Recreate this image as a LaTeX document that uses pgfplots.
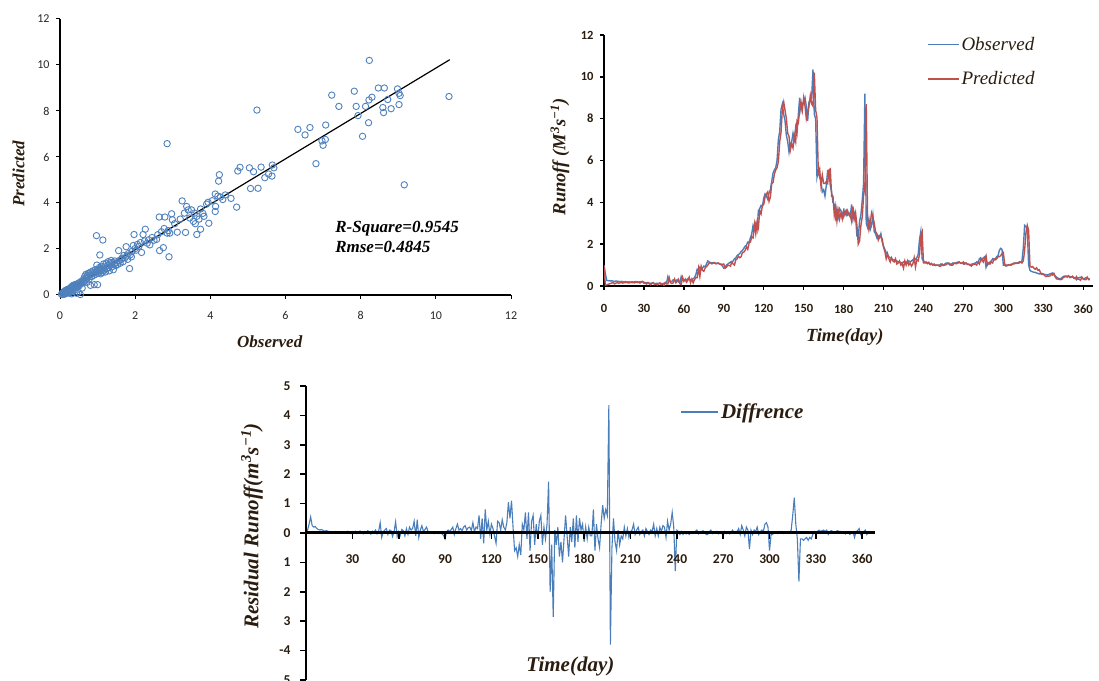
\documentclass[border=0pt]{standalone}
\usepackage{fontspec}
\setmainfont{Liberation Serif}
\newfontfamily\calibri{Carlito}
\usepackage{pgfplots}
\usepackage{pgfplotstable}
\pgfplotsset{compat=1.18}
\definecolor{obsblue}{HTML}{4A7EBB}
\definecolor{predred}{HTML}{C0504D}
\definecolor{mkblue}{HTML}{4F81BD}
\definecolor{lab}{HTML}{2A1C0E}
\definecolor{tk}{HTML}{262626}

\pgfplotstableread{
o p
0.04 0.03
0.06 0.08
0.08 0.02
0.09 0.12
0.10 0.06
0.11 0.15
0.12 0.09
0.13 0.04
0.14 0.17
0.15 0.11
0.15 0.20
0.16 0.07
0.17 0.14
0.18 0.22
0.19 0.16
0.20 0.12
0.20 0.18
0.21 0.25
0.22 0.15
0.23 0.09
0.24 0.20
0.25 0.15
0.26 0.28
0.27 0.11
0.28 0.19
0.29 0.33
0.30 0.24
0.31 0.05
0.32 0.38
0.33 0.28
0.34 0.15
0.35 0.42
0.36 0.31
0.38 0.36
0.39 0.22
0.40 0.45
0.41 0.33
0.43 0.40
0.44 0.08
0.45 0.48
0.46 0.36
0.48 0.43
0.49 0.12
0.50 0.52
0.51 0.40
0.53 0.47
0.54 0.02
0.55 0.58
0.56 0.50
0.58 0.55
0.59 0.30
0.60 0.62
0.62 0.53
0.63 0.70
0.64 0.58
0.66 0.82
0.67 0.64
0.69 0.90
0.70 0.72
0.72 0.55
0.73 0.85
0.75 0.78
0.76 0.95
0.78 0.70
0.80 0.88
0.81 0.42
0.82 1.00
0.84 0.80
0.86 0.92
0.88 1.05
0.89 0.85
0.91 0.45
0.92 0.98
0.94 1.10
0.95 0.90
0.97 1.02
0.98 1.30
1.00 0.45
1.00 1.05
1.01 0.95
1.03 1.12
1.04 1.00
1.05 1.20
1.06 1.74
1.07 1.08
1.08 0.92
1.09 1.15
1.10 1.05
1.11 1.25
1.12 1.10
1.13 0.98
1.14 2.39
0.97 2.58
1.15 1.18
1.16 1.35
1.18 1.08
1.20 1.22
1.21 1.00
1.23 1.38
1.25 1.15
1.27 1.28
1.28 1.45
1.30 1.20
1.31 1.05
1.33 1.40
1.35 1.30
1.36 1.50
1.38 1.22
1.40 1.42
1.42 1.10
1.44 1.35
1.46 1.48
1.48 1.28
1.50 1.40
1.53 1.32
1.56 1.93
1.58 1.50
1.60 1.38
1.63 1.55
1.65 1.60
1.68 1.45
1.70 1.72
1.73 1.62
1.76 2.10
1.78 1.70
1.80 1.55
1.82 1.80
1.85 1.15
1.87 1.75
1.90 1.66
1.92 1.90
1.95 2.15
1.97 2.63
2.00 2.02
2.03 1.95
2.06 2.20
2.10 2.12
2.14 2.28
2.17 1.85
2.21 2.63
2.25 2.35
2.27 2.86
2.32 2.25
2.36 2.40
2.39 2.18
2.45 2.50
2.50 2.38
2.57 2.42
2.60 2.62
2.64 3.39
2.65 1.93
2.70 2.75
2.75 2.06
2.77 2.89
2.79 3.39
2.85 6.58
2.85 2.69
2.88 2.80
2.90 1.66
2.92 2.69
2.97 3.53
2.99 3.27
3.05 3.10
3.12 2.73
3.20 3.30
3.25 4.09
3.31 3.56
3.34 2.72
3.37 3.85
3.41 3.70
3.45 3.35
3.50 3.70
3.55 3.20
3.58 3.56
3.60 3.10
3.64 3.42
3.64 2.63
3.70 3.30
3.74 3.74
3.74 2.86
3.80 3.55
3.83 3.42
3.90 3.95
3.94 4.03
3.96 3.12
4.05 4.10
4.13 4.39
4.13 3.63
4.14 3.85
4.20 4.30
4.22 4.95
4.24 5.23
4.27 4.26
4.33 4.15
4.40 4.35
4.55 4.20
4.70 3.82
4.73 5.39
4.79 5.55
5.04 5.53
5.07 4.63
5.15 5.36
5.24 8.04
5.27 4.64
5.35 5.56
5.45 5.10
5.55 5.26
5.64 5.17
5.65 5.65
5.69 5.53
6.33 7.20
6.52 6.96
6.65 7.28
6.81 5.71
6.97 6.70
7.00 6.51
7.06 6.76
7.07 7.39
7.23 8.69
7.42 8.20
7.83 8.86
7.88 8.20
7.93 7.80
8.05 6.90
8.13 8.20
8.21 7.49
8.22 8.48
8.23 10.20
8.30 8.60
8.47 9.00
8.59 8.15
8.61 7.93
8.63 9.00
8.72 8.50
8.81 8.10
8.98 8.96
9.02 8.77
9.02 8.28
9.05 8.67
9.16 4.79
10.35 8.63
}\scatterdata

\pgfplotstableread{
day obs pred diff
0 1.00 0.95 0.00
1 0.60 0.05 0.10
2 0.27 0.05 0.30
3 0.26 0.08 0.55
4 0.25 0.10 0.25
5 0.24 0.12 0.20
6 0.25 0.15 0.22
7 0.23 0.15 0.15
8 0.22 0.10 0.12
9 0.24 0.14 0.10
10 0.23 0.16 0.12
11 0.22 0.13 0.09
12 0.21 0.15 0.06
13 0.22 0.17 0.08
14 0.21 0.14 0.07
15 0.20 0.16 0.04
16 0.21 0.16 0.05
17 0.20 0.17 0.03
18 0.19 0.15 0.04
19 0.20 0.15 0.05
20 0.19 0.17 0.02
21 0.20 0.16 0.04
22 0.19 0.16 0.03
23 0.20 0.15 0.05
24 0.21 0.19 0.02
25 0.20 0.16 0.04
26 0.19 0.18 0.01
27 0.20 0.14 0.06
28 0.21 0.18 0.03
29 0.20 0.22 -0.02
30 0.18 0.13 0.05
31 0.16 0.14 0.02
32 0.15 0.09 0.06
33 0.15 0.17 -0.02
34 0.14 0.10 0.04
35 0.13 0.06 0.07
36 0.14 0.12 0.02
37 0.13 0.16 -0.03
38 0.12 0.07 0.05
39 0.12 0.10 0.02
40 0.13 0.05 0.08
41 0.12 0.11 0.01
42 0.11 0.15 -0.04
43 0.12 0.06 0.06
44 0.12 0.09 0.03
45 0.13 0.03 0.10
46 0.14 0.17 -0.03
47 0.15 0.10 0.05
48 0.45 0.10 0.35
49 0.25 0.40 -0.15
50 0.20 0.15 0.05
51 0.22 0.12 0.10
52 0.30 0.15 0.15
53 0.28 0.33 -0.05
54 0.25 0.15 0.10
55 0.30 0.22 0.08
56 0.20 0.32 -0.12
57 0.15 0.10 0.05
58 0.45 0.07 0.38
59 0.30 0.42 -0.12
60 0.28 0.23 0.05
61 0.25 0.33 -0.08
62 0.30 0.18 0.12
63 0.35 0.27 0.08
64 0.32 0.42 -0.10
65 0.30 0.15 0.15
66 0.28 0.33 -0.05
67 0.35 0.15 0.20
68 0.40 0.30 0.10
69 0.55 0.40 0.15
70 0.80 0.40 0.40
71 0.75 0.85 -0.10
72 0.90 0.45 0.45
73 0.80 0.95 -0.15
74 0.85 0.75 0.10
75 0.95 0.70 0.25
76 0.92 0.87 0.05
77 1.05 0.93 0.12
78 1.20 1.00 0.20
79 1.15 1.10 0.05
80 1.12 1.10 0.02
81 1.10 1.06 0.04
82 1.12 1.09 0.03
83 1.10 1.12 -0.02
84 1.08 1.06 0.02
85 1.10 1.07 0.03
86 1.08 1.10 -0.02
87 1.05 1.04 0.01
88 1.02 1.05 -0.03
89 0.95 1.03 -0.08
90 0.85 1.05 -0.20
91 0.90 0.85 0.05
92 1.00 0.90 0.10
93 1.05 1.00 0.05
94 1.10 0.98 0.12
95 1.15 0.95 0.20
96 1.10 1.15 -0.05
97 1.20 1.05 0.15
98 1.30 1.00 0.30
99 1.35 1.25 0.10
100 1.45 1.30 0.15
101 1.50 1.42 0.08
102 1.55 1.35 0.20
103 1.65 1.40 0.25
104 1.70 1.60 0.10
105 1.80 1.62 0.18
106 1.90 1.70 0.20
107 1.95 1.87 0.08
108 2.10 1.75 0.35
109 2.10 2.05 0.05
110 2.30 2.10 0.20
111 2.50 2.35 0.15
112 2.90 2.30 0.60
113 2.75 2.95 -0.20
114 3.00 2.50 0.50
115 2.70 3.05 -0.35
116 3.60 2.80 0.80
117 3.70 3.60 0.10
118 3.85 3.45 0.40
119 3.80 3.85 -0.05
120 4.20 3.90 0.30
121 4.40 4.25 0.15
122 4.30 4.40 -0.10
123 4.15 4.50 -0.35
124 4.45 4.05 0.40
125 4.60 4.25 0.35
126 5.00 4.90 0.10
127 5.40 4.95 0.45
128 5.55 5.35 0.20
129 5.65 5.55 0.10
130 6.00 5.65 0.35
131 7.00 5.95 1.05
132 7.40 6.90 0.50
133 8.45 7.35 1.10
134 8.70 8.50 0.20
135 8.20 8.80 -0.60
136 7.90 8.40 -0.50
137 7.20 8.00 -0.80
138 6.90 7.30 -0.40
139 6.40 7.15 -0.75
140 6.80 6.50 0.30
141 6.90 6.80 0.10
142 7.30 6.60 0.70
143 7.00 7.20 -0.20
144 7.60 6.90 0.70
145 7.30 7.90 -0.60
146 8.20 7.80 0.40
147 9.00 8.40 0.60
148 8.40 8.80 -0.40
149 8.70 8.40 0.30
150 8.80 9.00 -0.20
151 9.00 8.60 0.40
152 8.60 8.00 0.60
153 7.90 8.30 -0.40
154 8.80 8.60 0.20
155 8.90 9.10 -0.20
156 9.00 8.70 0.30
157 10.35 8.60 1.75
158 8.20 10.20 -2.00
159 8.00 8.40 -0.40
160 5.20 8.05 -2.85
161 5.50 5.40 0.10
162 5.20 5.60 -0.40
163 5.00 4.80 0.20
164 4.50 5.30 -0.80
165 4.60 4.90 -0.30
166 4.30 4.90 -1.00
167 4.80 5.00 -0.20
168 5.50 4.90 0.60
169 5.45 5.55 -0.10
170 4.80 5.60 -0.80
171 4.50 4.30 0.20
172 4.00 4.30 -0.30
173 3.90 3.40 0.50
174 3.30 3.80 -0.50
175 3.70 3.10 0.60
176 3.30 3.60 -0.30
177 3.70 3.20 0.50
178 3.60 3.50 0.10
179 3.50 3.20 0.30
180 3.30 3.60 -0.30
181 3.60 3.40 0.20
182 3.40 3.60 -0.20
183 3.60 3.40 0.20
184 3.40 3.50 -0.10
185 3.30 3.40 -0.10
186 3.90 3.10 0.80
187 3.20 3.80 -0.60
188 3.50 3.20 0.30
189 3.30 3.50 -0.20
190 2.40 2.90 -0.50
191 2.30 2.00 0.30
192 3.10 2.15 0.95
193 3.40 2.90 0.50
194 4.10 3.30 0.80
195 4.90 4.30 0.60
196 9.20 4.80 4.35
197 3.00 8.70 -3.80
198 2.80 3.20 -0.50
199 3.20 2.70 0.50
200 2.70 3.00 -0.30
201 2.90 3.50 -0.60
202 3.40 3.30 0.10
203 2.60 3.00 -0.40
204 2.50 2.60 -0.10
205 2.30 2.50 -0.20
206 2.40 2.20 0.20
207 2.30 2.40 -0.10
208 2.50 2.35 0.15
209 2.10 2.25 -0.15
210 1.90 1.85 0.05
211 1.75 1.65 0.10
212 1.60 1.30 0.30
213 1.50 1.55 -0.05
214 1.40 1.30 0.10
215 1.35 1.15 0.20
216 1.30 1.35 -0.05
217 1.25 1.20 0.05
218 1.25 1.15 0.10
219 1.20 1.30 -0.10
220 1.20 1.05 0.15
221 1.15 1.10 0.05
222 1.15 1.20 -0.05
223 1.10 1.00 0.10
224 1.12 1.07 0.05
225 1.15 0.85 0.30
226 1.10 1.20 -0.10
227 1.15 1.00 0.15
228 1.10 1.20 -0.10
229 1.20 1.00 0.20
230 1.15 1.10 0.05
231 1.20 0.95 0.25
232 1.25 1.05 0.20
233 1.20 1.35 -0.15
234 1.30 0.90 0.40
235 1.35 1.25 0.10
236 1.50 1.20 0.30
237 2.20 1.50 0.70
238 2.60 2.40 0.20
239 1.30 2.60 -1.30
240 1.20 1.10 0.10
241 1.15 1.10 0.05
242 1.10 1.15 -0.05
243 1.12 1.07 0.05
244 1.08 1.13 -0.05
245 1.05 1.02 0.03
246 1.05 1.08 -0.03
247 1.02 1.00 0.02
248 1.00 1.05 -0.05
249 1.00 0.98 0.02
250 1.00 1.00 0.00
251 0.98 1.00 -0.02
252 1.00 0.95 0.05
253 1.05 0.95 0.10
254 1.02 1.05 -0.03
255 1.00 0.98 0.02
256 1.05 1.00 0.05
257 1.10 1.02 0.08
258 1.10 1.08 0.02
259 1.05 1.10 -0.05
260 1.00 1.05 -0.05
261 1.05 1.00 0.05
262 1.10 1.00 0.10
263 1.08 1.10 -0.02
264 1.10 1.07 0.03
265 1.12 1.07 0.05
266 1.15 1.10 0.05
267 1.12 1.15 -0.03
268 1.10 1.08 0.02
269 1.10 1.10 0.00
270 1.05 1.15 -0.10
271 1.10 1.05 0.05
272 1.08 1.10 -0.02
273 1.05 1.03 0.02
274 1.02 1.05 -0.03
275 1.00 1.00 0.00
276 1.05 0.95 0.10
277 1.05 1.02 0.03
278 1.08 1.03 0.05
279 1.10 1.05 0.05
280 1.15 1.00 0.15
281 1.10 1.15 -0.05
282 1.30 1.05 0.25
283 1.35 1.25 0.10
284 1.20 1.30 -0.10
285 1.35 1.15 0.20
286 1.40 1.30 0.10
287 0.90 1.45 -0.55
288 1.10 1.00 0.10
289 1.05 1.10 -0.05
290 1.15 1.05 0.10
291 1.20 1.15 0.05
292 1.30 1.10 0.20
293 1.25 1.30 -0.05
294 1.30 1.25 0.05
295 1.40 1.30 0.10
296 1.45 1.40 0.05
297 1.70 1.40 0.30
298 1.80 1.45 0.35
299 1.75 1.55 0.20
300 1.00 1.60 -0.60
301 1.00 1.05 -0.05
302 0.95 1.00 -0.05
303 1.00 0.97 0.03
304 1.02 1.00 0.02
305 1.00 1.02 -0.02
306 1.05 1.00 0.05
307 1.05 1.05 0.00
308 1.10 1.05 0.05
309 1.08 1.10 -0.02
310 1.10 1.08 0.02
311 1.12 1.09 0.03
312 1.15 1.10 0.05
313 1.15 1.15 0.00
314 1.20 1.10 0.10
315 1.80 1.20 0.60
316 2.90 1.70 1.20
317 2.85 2.55 0.30
318 2.70 2.90 -0.20
319 1.00 2.65 -1.65
320 0.75 0.95 -0.20
321 0.70 0.90 -0.20
322 0.68 0.93 -0.25
323 0.65 0.85 -0.20
324 0.65 0.80 -0.15
325 0.62 0.87 -0.25
326 0.60 0.75 -0.15
327 0.58 0.78 -0.20
328 0.58 0.63 -0.05
329 0.60 0.55 0.05
330 0.58 0.56 0.02
331 0.55 0.50 0.05
332 0.55 0.45 0.10
333 0.52 0.47 0.05
334 0.55 0.47 0.08
335 0.58 0.48 0.10
336 0.60 0.55 0.05
337 0.62 0.52 0.10
338 0.55 0.60 -0.05
339 0.48 0.43 0.05
340 0.42 0.34 0.08
341 0.38 0.33 0.05
342 0.35 0.32 0.03
343 0.35 0.30 0.05
344 0.40 0.32 0.08
345 0.45 0.40 0.05
346 0.48 0.43 0.05
347 0.48 0.46 0.02
348 0.47 0.42 0.05
349 0.46 0.49 -0.03
350 0.45 0.40 0.05
351 0.44 0.42 0.02
352 0.42 0.47 -0.05
353 0.40 0.37 0.03
354 0.40 0.35 0.05
355 0.30 0.45 -0.15
356 0.38 0.33 0.05
357 0.40 0.32 0.08
358 0.42 0.27 0.15
359 0.38 0.43 -0.05
360 0.35 0.33 0.02
361 0.36 0.31 0.05
362 0.40 0.30 0.10
363 0.38 0.43 -0.05
364 0.35 0.30 0.05
365 0.32 0.30 0.02
}\runoff

\begin{document}
\begin{tikzpicture}
\path[use as bounding box] (0pt,0pt) rectangle (1099pt,680pt);
\clip (0pt,0pt) rectangle (1099pt,680pt);

% ---------- Panel 1: scatter ----------
\begin{axis}[
  at={(60pt,385pt)}, anchor=south west,
  scale only axis, width=451pt, height=276pt,
  xmin=0, xmax=12, ymin=0, ymax=12,
  xtick={0,2,...,12}, ytick={0,2,...,12},
  axis lines=left, axis line style={-, line width=1.2pt, black},
  tick align=outside, major tick length=4pt,
  tick style={line width=1pt, black},
  /pgf/number format/assume math mode=true,
  ticklabel style={font=\calibri\fontsize{12}{14}\selectfont, text=tk},
  xticklabel style={yshift=-9pt},
  yticklabel style={xshift=-3pt},
  clip=false,
  xlabel={Observed}, ylabel={Predicted},
  xlabel style={at={(axis description cs:0.465,-0.168)}, anchor=center,
    font=\bfseries\itshape\fontsize{17}{20}\selectfont, text=lab},
  ylabel style={at={(axis description cs:-0.092,0.44)}, anchor=center, rotate=0,
    font=\bfseries\itshape\fontsize{17}{20}\selectfont, text=lab},
]
\addplot[only marks, mark=o, mark size=3.2pt, mark options={line width=0.9pt, draw=mkblue}]
  table[x=o, y=p] {\scatterdata};
\addplot[black, line width=1.2pt] coordinates {(0.06,0.06) (10.37,10.23)};
\node[anchor=west, align=left, font=\bfseries\itshape\fontsize{17}{20.5}\selectfont, inner sep=0pt]
  at (axis description cs:0.61,0.21) {R-Square=0.9545\\Rmse=0.4845};
\end{axis}

% ---------- Panel 2: time series ----------
\begin{axis}[
  at={(604pt,394pt)}, anchor=south west,
  scale only axis, width=488.5pt, height=251pt,
  xmin=0, xmax=367, ymin=0, ymax=12,
  xtick={0,30,...,360}, ytick={0,2,...,12},
  axis lines=left, axis line style={-, line width=1.8pt, black},
  tick align=outside, major tick length=4pt,
  tick style={line width=1.4pt, black},
  /pgf/number format/assume math mode=true,
  ticklabel style={font=\calibri\bfseries\fontsize{12.5}{14}\selectfont, text=lab},
  xticklabel style={yshift=-11pt},
  yticklabel style={xshift=-3pt},
  xlabel={Time(day)}, ylabel={Runoff (M\textsuperscript{3}s\textsuperscript{−1})},
  xlabel style={at={(axis description cs:0.493,-0.203)}, anchor=center,
    font=\bfseries\itshape\fontsize{18.5}{22}\selectfont, text=lab},
  ylabel style={at={(axis description cs:-0.090,0.514)}, anchor=center, rotate=0,
    font=\bfseries\itshape\fontsize{18.5}{22}\selectfont, text=lab},
  legend style={at={(axis description cs:0.661,0.894)}, anchor=west,
    draw=none, fill=none, inner sep=0pt,
    nodes={inner ysep=10pt},
    font=\itshape\fontsize{19}{22}\selectfont, text=lab,
    cells={anchor=west}},
  legend image code/.code={\draw[#1] (0pt,0pt) -- (31pt,0pt);},
]
\addplot[obsblue, line width=1.4pt] table[x=day, y=obs] {\runoff};
\addlegendentry{Observed}
\addplot[predred, line width=1.4pt] table[x=day, y=pred] {\runoff};
\addlegendentry{Predicted}
\end{axis}

% ---------- Panel 3: residual ----------
\begin{axis}[
  at={(306pt,0pt)}, anchor=south west,
  scale only axis, width=568.6pt, height=294pt,
  xmin=0, xmax=368, ymin=-5, ymax=5,
  xtick={30,60,...,360}, ytick={-5,-4,...,5},
  yticklabels={5,-4,3,2,1,0,1,2,3,4,5},
  axis x line=middle, axis y line=left,
  x axis line style={-, line width=3pt, black},
  y axis line style={-, line width=2.2pt, black},
  axis on top,
  major tick length=6pt,
  ytick align=outside, xtick align=outside,
  tick style={line width=1.6pt, black},
  /pgf/number format/assume math mode=true,
  ticklabel style={font=\calibri\bfseries\fontsize{13.5}{15}\selectfont, text=lab},
  xticklabel style={yshift=-12pt},
  yticklabel style={xshift=-6pt},
  xlabel={Time(day)}, ylabel={Residual Runoff(m\textsuperscript{3}s\textsuperscript{−1})},
  xlabel style={at={(axis description cs:0.465,0.046)}, anchor=center,
    font=\bfseries\itshape\fontsize{21}{24}\selectfont, text=lab},
  ylabel style={at={(axis description cs:-0.095,0.524)}, anchor=center, rotate=0,
    font=\bfseries\itshape\fontsize{21}{24}\selectfont, text=lab},
  legend style={at={(axis description cs:0.659,0.9116)}, anchor=west,
    draw=none, fill=none, inner sep=0pt,
    font=\bfseries\itshape\fontsize{21}{24}\selectfont, text=lab,
    cells={anchor=west}},
  legend image code/.code={\draw[#1] (0pt,0pt) -- (37pt,0pt);},
]
\addplot[obsblue, line width=1.1pt] table[x=day, y=diff] {\runoff};
\addlegendentry{Diffrence}
\end{axis}
\end{tikzpicture}
\end{document}
